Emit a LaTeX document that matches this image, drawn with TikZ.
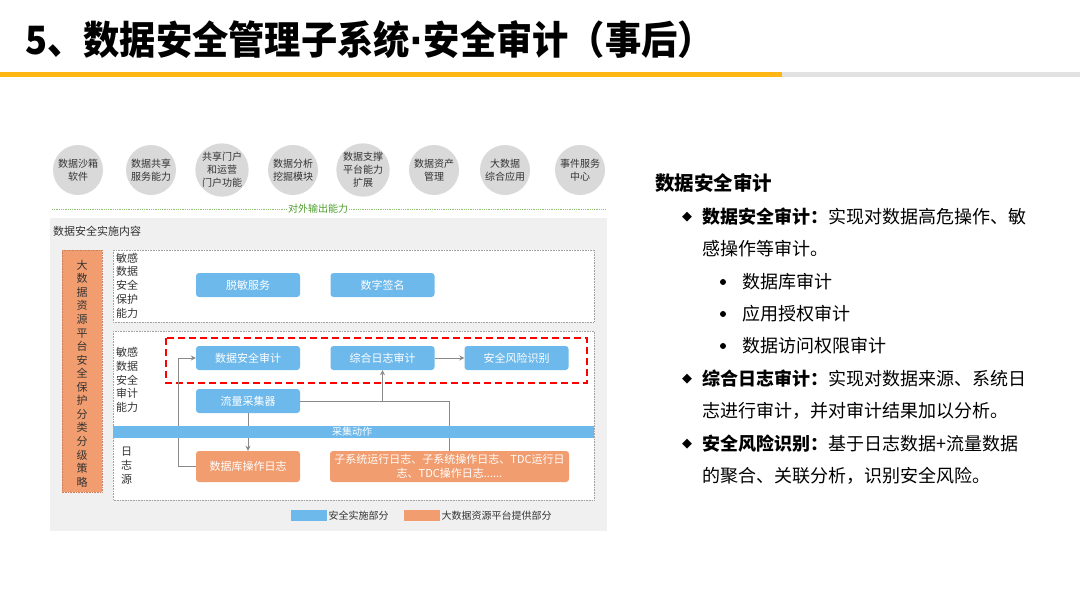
\documentclass[tikz,border=0pt]{standalone}
\usepackage{fontspec}
\setmainfont{Noto Sans CJK SC}
\newfontfamily\dv{DejaVu Sans}
\usetikzlibrary{arrows.meta}
\definecolor{bl}{HTML}{6DB9EB}
\definecolor{og}{HTML}{F29D6F}
\definecolor{ogline}{HTML}{C98060}
\definecolor{barY}{HTML}{FDB614}
\definecolor{barG}{HTML}{E2E2E2}
\definecolor{circ}{HTML}{D9D9D9}
\definecolor{panel}{HTML}{F0F0F0}
\definecolor{gline}{HTML}{8CC36E}
\definecolor{gtext}{HTML}{4FA02E}
\definecolor{ln}{HTML}{8A8A8A}
\definecolor{dk}{HTML}{333333}
\newcommand\fsz[2]{\fontsize{#1}{#2}\selectfont}
\tikzset{
  circnode/.style={circle, fill=circ, minimum size=50pt, inner sep=0pt, align=center, text=dk, font=\fsz{10}{13}},
  bbox/.style={fill=bl, rounded corners=3pt, text=white, minimum width=104pt, minimum height=24pt, inner sep=0pt, font=\fsz{11}{13}},
  obox/.style={fill=og, rounded corners=3pt, text=white, minimum height=31pt, inner sep=0pt, align=center, font=\fsz{11}{14}},
  wbox/.style={fill=white, draw=ln!80, densely dotted, line width=0.6pt},
  vlabel/.style={anchor=west, align=left, text=dk, inner sep=0pt},
  conn/.style={draw=ln, line width=0.8pt},
  arr/.style={conn, -{Stealth[length=5pt,width=5pt]}},
  rtext/.style={anchor=west, inner sep=0pt, text=black, font=\fsz{18}{20}},
  diam/.style={anchor=center, inner sep=0pt, font=\dv\fsz{13}{13}},
  dot/.style={circle, fill=black, minimum size=6pt, inner sep=0pt},
}
\begin{document}
\begin{tikzpicture}[x=1pt,y=-1pt]
\useasboundingbox (0,0) rectangle (1080,608);
\fill[white] (0,0) rectangle (1080,608);

% title
\node[anchor=west, inner sep=0pt, xscale=0.93, font=\fsz{39}{42}\bfseries] (title) at (25,40) {5、数据安全管理子系统{\dv\bfseries ·}安全审计（事后）};
\fill[barY] (0,71.5) rectangle (782,77);
\fill[barG] (782,71.5) rectangle (1080,77);

% circles
\node[circnode] (c1) at (78,170) {数据沙箱\\软件};
\node[circnode] (c2) at (151,170) {数据共享\\服务能力};
\node[circnode] (c3) at (222,170) {共享门户\\和运营\\门户功能};
\node[circnode] (c4) at (293,170) {数据分析\\挖掘模块};
\node[circnode] (c5) at (363,170) {数据支撑\\平台能力\\扩展};
\node[circnode] (c6) at (434,170) {数据资产\\管理};
\node[circnode] (c7) at (505,170) {大数据\\综合应用};
\node[circnode] (c8) at (580,170) {事件服务\\中心};

% output line
\draw[gline, densely dotted, line width=0.8pt] (52,209) -- (606,209);
\node[fill=white, inner sep=1pt, text=gtext, font=\fsz{10}{12}] (out) at (318,209) {对外输出能力};

% panel
\fill[panel] (50,218) rectangle (607,531);
\node[anchor=west, inner sep=0pt, text=dk, font=\fsz{11}{13}] (ptitle) at (53,231) {数据安全实施内容};

% vertical orange box
\draw[fill=og, draw=ogline, densely dotted, line width=0.6pt] (62,250) rectangle (102,492);
\node[align=center, inner sep=0pt, text=dk, font=\fsz{11}{13.56}] (vtxt) at (82,373.5) {大\\数\\据\\资\\源\\平\\台\\安\\全\\保\\护\\分\\类\\分\\级\\策\\略};

% white box 1
\draw[wbox] (113,250) rectangle (594,322);
\node[vlabel, font=\fsz{11}{13.75}] (l1) at (116,285.5) {敏感\\数据\\安全\\保护\\能力};
\node[bbox] (tm) at (248,285) {脱敏服务};
\node[bbox] (sz) at (382.5,285) {数字签名};

% white box 2
\draw[wbox] (113,331) rectangle (594,500);
\node[vlabel, font=\fsz{11}{13.75}] (l2) at (116,380) {敏感\\数据\\安全\\审计\\能力};
\node[vlabel, font=\fsz{11}{14}] (l3) at (121,466) {日\\志\\源};

\node[bbox] (sj) at (248,358) {数据安全审计};
\node[bbox] (zh) at (382.5,358) {综合日志审计};
\node[bbox] (fx) at (516.5,358) {安全风险识别};
\node[bbox] (ll) at (248,401) {流量采集器};

\node[obox, minimum width=104pt] (db) at (248,466.5) {数据库操作日志};
\node[obox, minimum width=239pt] (sub) at (449.5,466.5) {子系统运行日志、子系统操作日志、TDC运行日\\志、TDC操作日志......};

% red dashed
\draw[red, line width=1.8pt, dash pattern=on 7pt off 4pt] (166,338) rectangle (587,383);

% connectors
\draw[conn] (sub.north) |- (ll.east);
\draw[arr] (zh.south |- ll.east) -- (zh.south);
\draw[arr] (zh.east) -- (fx.west);
\draw[arr] (ll.south) -- (db.north);
\draw[arr] (db.west) -- ++(-17,0) |- (sj.west);

% collect bar
\fill[bl] (113,426) rectangle (594,437.5);
\node[inner sep=0pt, text=white, font=\fsz{10}{12}] (cj) at (352,431.75) {采集动作};

% legend
\fill[bl] (291,510) rectangle (327,521);
\node[anchor=west, inner sep=0pt, text=dk, font=\fsz{10}{12}] (lg1) at (328.5,515.5) {安全实施部分};
\fill[og] (404,510) rectangle (440,521);
\node[anchor=west, inner sep=0pt, text=dk, font=\fsz{10}{12}] (lg2) at (441.5,515.5) {大数据资源平台提供部分};

% right text
\node[rtext, font=\fsz{19.5}{22}\bfseries] (rt) at (655,183) {数据安全审计};
\node[diam] (b1) at (687,217) {◆};
\node[rtext] (t1) at (702,217) {\textbf{数据安全审计：}实现对数据高危操作、敏};
\node[rtext] (t2) at (702,249) {感操作等审计。};
\node[dot] (s1) at (723,282) {};
\node[rtext] (t3) at (742,282) {数据库审计};
\node[dot] (s2) at (723,314) {};
\node[rtext] (t4) at (742,314) {应用授权审计};
\node[dot] (s3) at (723,346) {};
\node[rtext] (t5) at (742,346) {数据访问权限审计};
\node[diam] (b2) at (687,379) {◆};
\node[rtext] (t6) at (702,379) {\textbf{综合日志审计：}实现对数据来源、系统日};
\node[rtext] (t7) at (702,411) {志进行审计，并对审计结果加以分析。};
\node[diam] (b3) at (687,444) {◆};
\node[rtext] (t8) at (702,444) {\textbf{安全风险识别：}基于日志数据+流量数据};
\node[rtext] (t9) at (702,476) {的聚合、关联分析，识别安全风险。};
\end{tikzpicture}
\end{document}
